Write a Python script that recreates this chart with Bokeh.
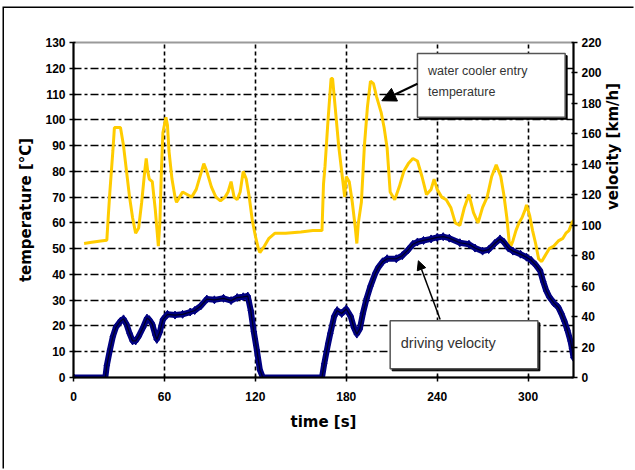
import math
from bokeh.plotting import figure
from bokeh.models import Range1d, LinearAxis, FixedTicker, Arrow, NormalHead, Label
from bokeh.embed import file_html
from bokeh.resources import INLINE

# ---------------- data ----------------
temp_time = [7, 12, 18, 22, 23, 24, 26, 27, 31, 33, 35, 37, 39, 41, 43, 45, 47, 48, 49, 50, 52, 54, 56, 57,
             58, 59, 61, 62, 63, 65, 67, 68, 70, 72, 75, 78, 81, 84, 86, 88, 91, 94, 97, 100, 102, 104,
             106, 108, 110, 112, 114, 116, 118, 120, 122, 123, 126, 129, 133, 140, 150, 158, 164, 165,
             166, 168, 170, 171, 173, 175, 177, 179, 180, 182, 184, 186, 187, 188, 190, 192, 194, 196,
             198, 200, 203, 205, 207, 209, 212, 215, 218, 221, 224, 227, 230, 233, 236, 238, 240, 243,
             246, 249, 252, 255, 258, 261, 264, 267, 270, 273, 276, 279, 282, 284, 286, 288, 290, 292,
             294, 296, 298, 299, 301, 303, 305, 307, 309, 311, 314, 317, 320, 323, 325, 327, 329, 330]
temp_values = [52, 52.5, 53, 53.3, 63, 72, 88, 97, 97, 90, 80, 70, 62, 56, 58, 68, 80, 85, 80, 77, 76, 65, 51, 60,
               80, 95, 101, 98, 88, 77, 70, 68, 70, 72, 71, 70, 73, 79, 83, 80, 74, 70, 68.5, 70, 72, 76,
               70, 69, 72, 80, 77, 70, 61, 55, 50, 48.5, 51, 54, 56, 56, 56.5, 57, 57, 75,
               82, 100, 116, 116, 103, 90, 80, 70, 78, 76, 68, 58, 52, 60, 68, 90, 105, 115,
               114, 109, 103, 97, 89, 72, 69, 74, 80, 83, 85, 84, 78, 71, 73, 77, 73, 70,
               69, 66, 60, 59, 66, 71, 64, 60, 66, 70, 78, 82.5, 78, 71, 62, 50, 53, 57,
               60, 62, 65, 67, 63, 57, 52, 46, 45, 47, 50, 51, 53, 54, 56, 57, 60, 61]

vel_time = [0, 21, 22, 24, 26, 28, 31, 33, 35, 37, 39, 41, 43, 46, 48.5, 50, 52, 54, 55, 57, 59, 62, 67, 72,
            77, 80, 84, 88, 93, 99, 104, 108, 112, 115, 117, 119, 121, 123, 125, 164, 165.5, 168, 169.5,
            172, 174, 177, 180, 183, 185, 187, 189, 191, 193.5, 196, 199, 201, 204, 207, 213, 217, 221,
            224, 227, 231, 236, 240, 244, 248, 255, 261, 265, 270, 274, 278, 281.5, 284, 287, 290, 295,
            299, 302, 305, 308, 310, 312, 314, 317, 320, 322, 324, 326, 328, 329, 330]
vel_values = [0, 0, 8, 18, 27, 33, 37, 38.5, 35, 29, 24, 24, 27, 33, 39, 38, 35, 28, 25, 30, 38, 41.5, 41, 41.5,
              43, 44, 47, 51.5, 51, 52, 50.5, 52.5, 53, 53.5, 44, 30, 18, 5, 0, 0, 9, 22, 29,
              40, 44, 42, 45, 40, 33, 28.5, 32, 42, 52, 60, 68, 72, 76, 78, 78, 80, 84,
              87.5, 89, 90, 91, 92, 92.5, 91.5, 88.5, 87.5, 85, 83, 84, 88, 91, 89, 85, 83, 81,
              79, 77, 74, 70, 63, 57, 53, 49, 46, 42, 37, 31, 24, 19, 13]

x_ticks = [0, 60, 120, 180, 240, 300]
temp_ticks = list(range(0, 131, 10))
vel_ticks = list(range(0, 221, 20))

# annotation boxes (time, temperature units)
box_left = [227, 209]
box_right = [324.5, 306.5]
box_bottom = [101, 3.4]
box_top = [125.7, 22]

TICK_FONT = "Liberation Sans"
TITLE_FONT = "DejaVu Sans"

p = figure(width=631, height=462, x_range=Range1d(0, 330), y_range=Range1d(0, 130),
           output_backend="svg", toolbar_location=None,
           margin=(8, 0, 0, 4),
           styles={"box-shadow": "-1.5px -1.5px 0px 0px black"},
           min_border_left=69, min_border_right=62, min_border_top=34, min_border_bottom=93,
           background_fill_color="white", border_fill_color="white",
           outline_line_color="#9a9a9a", outline_line_width=2)

p.extra_y_ranges = {"vel": Range1d(0, 220)}
vel_axis = LinearAxis(y_range_name="vel", ticker=FixedTicker(ticks=vel_ticks))
p.add_layout(vel_axis, "right")

# title-only axis: text reads bottom-to-top, starting from the middle of its bounds
vel_title_axis = LinearAxis(y_range_name="vel", ticker=FixedTicker(ticks=[]), bounds=(0, 132),
                            axis_label="velocity [km/h]", axis_line_color=None,
                            major_tick_line_color=None, minor_tick_line_color=None)
p.add_layout(vel_title_axis, "right")

left_axis = p.left[0]
bottom_axis = p.below[0]
bottom_axis.ticker = FixedTicker(ticks=x_ticks)
left_axis.ticker = FixedTicker(ticks=temp_ticks)
bottom_axis.axis_label = "time [s]"
left_axis.axis_label = "temperature [°C]"

for ax in [bottom_axis, left_axis, vel_axis]:
    ax.axis_line_width = 2
    ax.axis_line_color = "black"
    ax.major_tick_line_width = 1.5
    ax.major_tick_line_color = "black"
    ax.major_tick_in = 2
    ax.major_tick_out = 4
    ax.minor_tick_line_color = None
    ax.major_label_text_font = TICK_FONT
    ax.major_label_text_font_style = "bold"
    ax.major_label_text_font_size = "12px"
    ax.major_label_text_color = "black"

for ax in [bottom_axis, left_axis, vel_title_axis]:
    ax.axis_label_text_font = TITLE_FONT
    ax.axis_label_text_font_style = "bold"
    ax.axis_label_text_font_size = "15px"
    ax.axis_label_text_color = "black"

bottom_axis.major_label_standoff = 10
bottom_axis.axis_label_standoff = 9
left_axis.major_label_standoff = 4
left_axis.axis_label_standoff = 7
vel_axis.major_label_standoff = 4
vel_title_axis.axis_label_standoff = 8
vel_title_axis.axis_label_orientation = math.pi / 2

p.ygrid.ticker = FixedTicker(ticks=temp_ticks[1:-1])
p.ygrid.grid_line_color = "black"
p.ygrid.grid_line_width = 1.6
p.ygrid.grid_line_dash = "8 3 3 3"
p.xgrid.ticker = FixedTicker(ticks=x_ticks[1:])
p.xgrid.grid_line_color = "black"
p.xgrid.grid_line_width = 1.6
p.xgrid.grid_line_dash = "4 3"

# series
p.line(temp_time, temp_values, line_color="#FFCC00", line_width=3)
p.line(vel_time, vel_values, y_range_name="vel", line_color="#000080", line_width=6)
p.scatter(vel_time, vel_values, y_range_name="vel", marker="diamond", size=8,
          fill_color="#000080", line_color="#000080")
p.line(vel_time, vel_values, y_range_name="vel", line_color="#000022", line_width=1.2)

# annotation boxes: shadow + box
p.quad(left=[b + 1.3 for b in box_left], right=[b + 1.3 for b in box_right],
       bottom=[b - 0.8 for b in box_bottom], top=[b - 0.8 for b in box_top],
       fill_color="black", line_color="black")
p.quad(left=box_left, right=box_right, bottom=box_bottom, top=box_top,
       fill_color="white", line_color="#555555", line_width=1.5)

p.add_layout(Label(x=234, y=119, text="water cooler entry", text_font="Liberation Sans",
                   text_font_size="12.5px", text_color="#333333", text_baseline="middle"))
p.add_layout(Label(x=234, y=110.6, text="temperature", text_font="Liberation Sans",
                   text_font_size="12.5px", text_color="#333333", text_baseline="middle"))
p.add_layout(Label(x=216, y=13.5, text="driving velocity", text_font="Liberation Sans",
                   text_font_size="14.5px", text_color="#333333", text_baseline="middle"))

p.add_layout(Arrow(end=NormalHead(size=14, fill_color="black", line_color="black"),
                   x_start=227, y_start=114, x_end=203.5, y_end=107.4,
                   line_color="black", line_width=2))
p.add_layout(Arrow(end=NormalHead(size=9, fill_color="black", line_color="black"),
                   x_start=242, y_start=22.5, x_end=227.6, y_end=45.3,
                   line_color="black", line_width=1.5))

open("out.html", "w").write(file_html(p, INLINE))
